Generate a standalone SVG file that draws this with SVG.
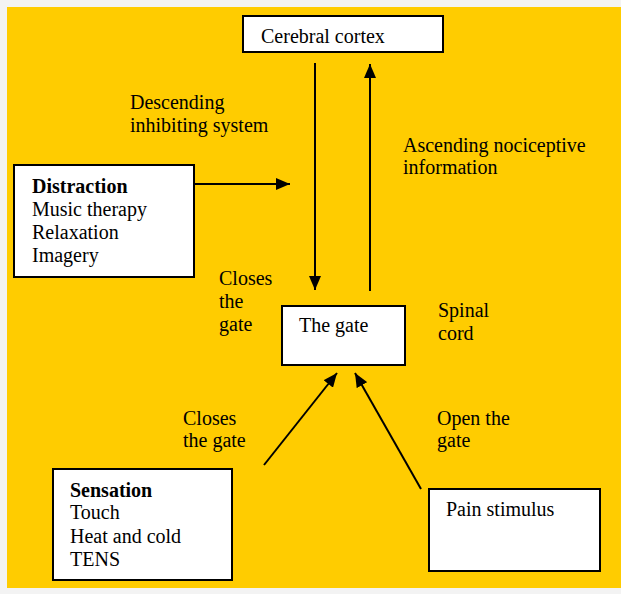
<svg xmlns="http://www.w3.org/2000/svg" width="621" height="594" viewBox="0 0 621 594">
<style>
text{font-family:"Liberation Serif","Times New Roman",serif;font-size:20px;fill:#000}
.b{font-weight:bold}
.box{fill:#fff;stroke:#000;stroke-width:2}
.c{stroke:#000;stroke-width:2;fill:none}
</style>
<defs>
<marker id="ah" viewBox="0 0 14 12" refX="14" refY="6" markerWidth="14" markerHeight="12" markerUnits="userSpaceOnUse" orient="auto">
<path d="M0,0 L14,6 L0,12 z" fill="#000"/>
</marker>
</defs>
<rect width="621" height="594" fill="#f3f3f3"/>
<rect x="7" y="7" width="614" height="581" fill="#ffcc00"/>
<g id="connectors">
<line class="c" x1="315" y1="63" x2="315" y2="290" marker-end="url(#ah)"/>
<line class="c" x1="370" y1="291" x2="370" y2="64" marker-end="url(#ah)"/>
<line class="c" x1="194" y1="184" x2="290" y2="184" marker-end="url(#ah)"/>
<line class="c" x1="264" y1="465" x2="337" y2="373" marker-end="url(#ah)"/>
<line class="c" x1="421" y1="489" x2="355" y2="373" marker-end="url(#ah)"/>
</g>
<g id="cortex">
<rect class="box" x="243" y="16" width="200" height="36"/>
<text x="261" y="43">Cerebral cortex</text>
</g>
<g id="distraction">
<rect class="box" x="14" y="165" width="180" height="112"/>
<text x="32" y="193" class="b">Distraction</text>
<text x="32" y="216">Music therapy</text>
<text x="32" y="239">Relaxation</text>
<text x="32" y="262">Imagery</text>
</g>
<g id="gate">
<rect class="box" x="282" y="306" width="123" height="59"/>
<text x="299" y="332">The gate</text>
</g>
<g id="sensation">
<rect class="box" x="53" y="469" width="179" height="111"/>
<text x="70" y="497" class="b">Sensation</text>
<text x="70" y="519">Touch</text>
<text x="70" y="543">Heat and cold</text>
<text x="70" y="566">TENS</text>
</g>
<g id="pain">
<rect class="box" x="429" y="489" width="171" height="82"/>
<text x="446" y="516">Pain stimulus</text>
</g>
<g id="labels">
<text x="130" y="109">Descending</text>
<text x="130" y="132">inhibiting system</text>
<text x="403" y="152">Ascending nociceptive</text>
<text x="403" y="174">information</text>
<text x="219" y="285">Closes</text>
<text x="219" y="308">the</text>
<text x="219" y="331">gate</text>
<text x="438" y="317">Spinal</text>
<text x="438" y="340">cord</text>
<text x="183" y="425">Closes</text>
<text x="183" y="447">the gate</text>
<text x="437" y="425">Open the</text>
<text x="437" y="447">gate</text>
</g>
</svg>
